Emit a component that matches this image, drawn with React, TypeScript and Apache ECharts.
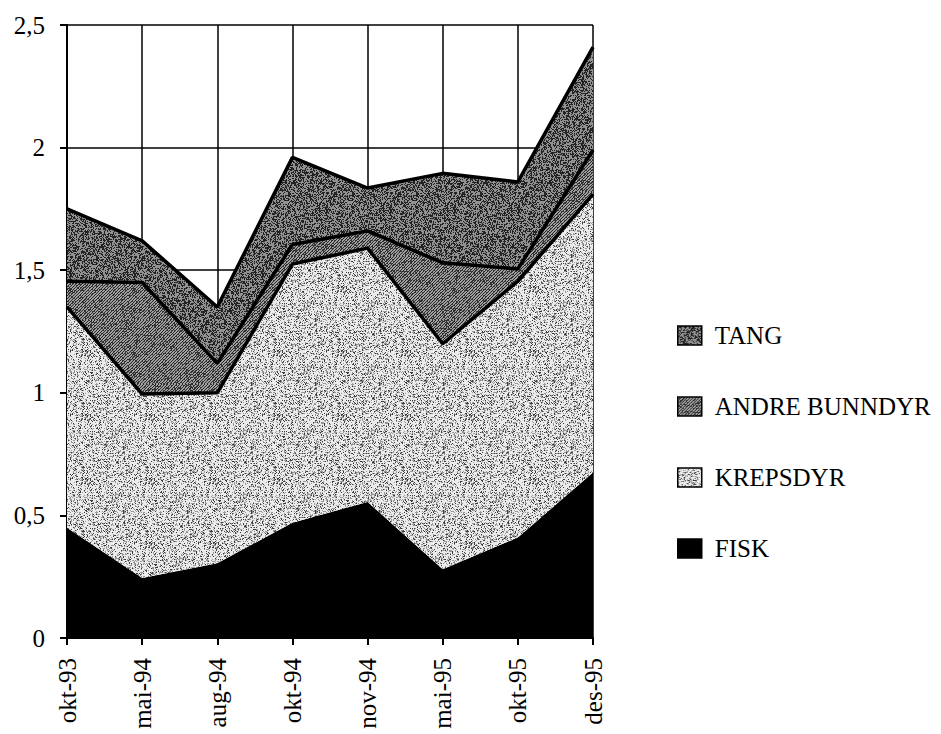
import React, { useEffect, useRef } from "react";
import * as echarts from "echarts";

const categories = ["okt-93", "mai-94", "aug-94", "okt-94", "nov-94", "mai-95", "okt-95", "des-95"];
const fisk = [0.45, 0.245, 0.305, 0.47, 0.555, 0.28, 0.41, 0.675];
const krepsdyr = [0.9, 0.75, 0.695, 1.055, 1.035, 0.92, 1.045, 1.135];
const andreBunndyr = [0.105, 0.455, 0.12, 0.08, 0.07, 0.33, 0.05, 0.18];
const tang = [0.295, 0.17, 0.23, 0.355, 0.175, 0.365, 0.355, 0.42];
const legendOrder = ["TANG", "ANDRE BUNNDYR", "KREPSDYR", "FISK"];

const FONT = "Liberation Serif";

// deterministic texture generator (hash-based stipple / hatch), used only for fill textures
function texture(kind: "krep" | "andre" | "tang"): HTMLCanvasElement {
  const size = 64;
  const c = document.createElement("canvas");
  c.width = size;
  c.height = size;
  const ctx = c.getContext("2d")!;
  const img = ctx.createImageData(size, size);
  let s = kind === "krep" ? 12345 : kind === "andre" ? 67890 : 24680;
  const next = () => {
    s = (s * 1103515245 + 12345) & 0x7fffffff;
    return s / 0x7fffffff;
  };
  for (let y = 0; y < size; y++) {
    for (let x = 0; x < size; x++) {
      const h = next();
      let v = 255;
      if (kind === "krep") {
        v = h < 0.12 ? 60 : h < 0.35 ? 150 : 235;
      } else if (kind === "andre") {
        const diag = (x + y) % 3 === 0;
        v = diag ? 40 : h < 0.2 ? 60 : 160;
      } else {
        v = h < 0.45 ? 35 : 145;
      }
      const i = (y * size + x) * 4;
      img.data[i] = v;
      img.data[i + 1] = v;
      img.data[i + 2] = v;
      img.data[i + 3] = 255;
    }
  }
  ctx.putImageData(img, 0, 0);
  return c;
}

export default function App() {
  const ref = useRef<HTMLDivElement>(null);
  useEffect(() => {
    document.body.style.margin = "0";
    const chart = echarts.init(ref.current!, null, { renderer: "svg" });
    const pat = (kind: "krep" | "andre" | "tang") => ({ image: texture(kind), repeat: "repeat" });
    const mk = (name: string, data: number[], fill: any, lineW: number) => ({
      name,
      type: "line",
      stack: "total",
      data,
      symbol: "none",
      color: fill,
      itemStyle: { color: fill },
      lineStyle: { color: "#000", width: lineW },
      areaStyle: { color: fill, opacity: 1 },
    });
    chart.setOption({
      animation: false,
      backgroundColor: "#fff",
      textStyle: { fontFamily: FONT },
      grid: { left: 67, right: 348, top: 25, bottom: 96, containLabel: false },
      legend: {
        orient: "vertical",
        left: 672,
        top: 318,
        data: legendOrder,
        icon: "rect",
        itemWidth: 24,
        itemHeight: 19,
        itemGap: 46,
        itemStyle: { borderColor: "#000", borderWidth: 1.5 },
        textStyle: { fontFamily: FONT, fontSize: 25, color: "#000", lineHeight: 25, padding: [0, 0, 0, 8] },
      },
      xAxis: {
        type: "category",
        data: categories,
        boundaryGap: false,
        axisLine: { lineStyle: { color: "#000", width: 2 } },
        axisTick: { show: true, length: 7, lineStyle: { color: "#000", width: 2 } },
        splitLine: { show: true, lineStyle: { color: "#000", width: 1.5 } },
        axisLabel: { rotate: 90, margin: 20, fontFamily: FONT, fontSize: 25, color: "#000" },
      },
      yAxis: {
        type: "value",
        min: 0,
        max: 2.5,
        interval: 0.5,
        axisLine: { show: true, lineStyle: { color: "#000", width: 2 } },
        axisTick: { show: true, length: 7, lineStyle: { color: "#000", width: 2 } },
        splitLine: { show: true, lineStyle: { color: "#000", width: 1.5 } },
        axisLabel: {
          margin: 22,
          fontFamily: FONT,
          fontSize: 25,
          color: "#000",
          formatter: (v: number) => String(v).replace(".", ","),
        },
      },
      series: [
        mk("FISK", fisk, "#000000", 0),
        mk("KREPSDYR", krepsdyr, pat("krep"), 3.5),
        mk("ANDRE BUNNDYR", andreBunndyr, pat("andre"), 3.5),
        mk("TANG", tang, pat("tang"), 3.5),
      ],
    });
    return () => chart.dispose();
  }, []);
  return <div ref={ref} style={{ width: 941, height: 734 }} />;
}
